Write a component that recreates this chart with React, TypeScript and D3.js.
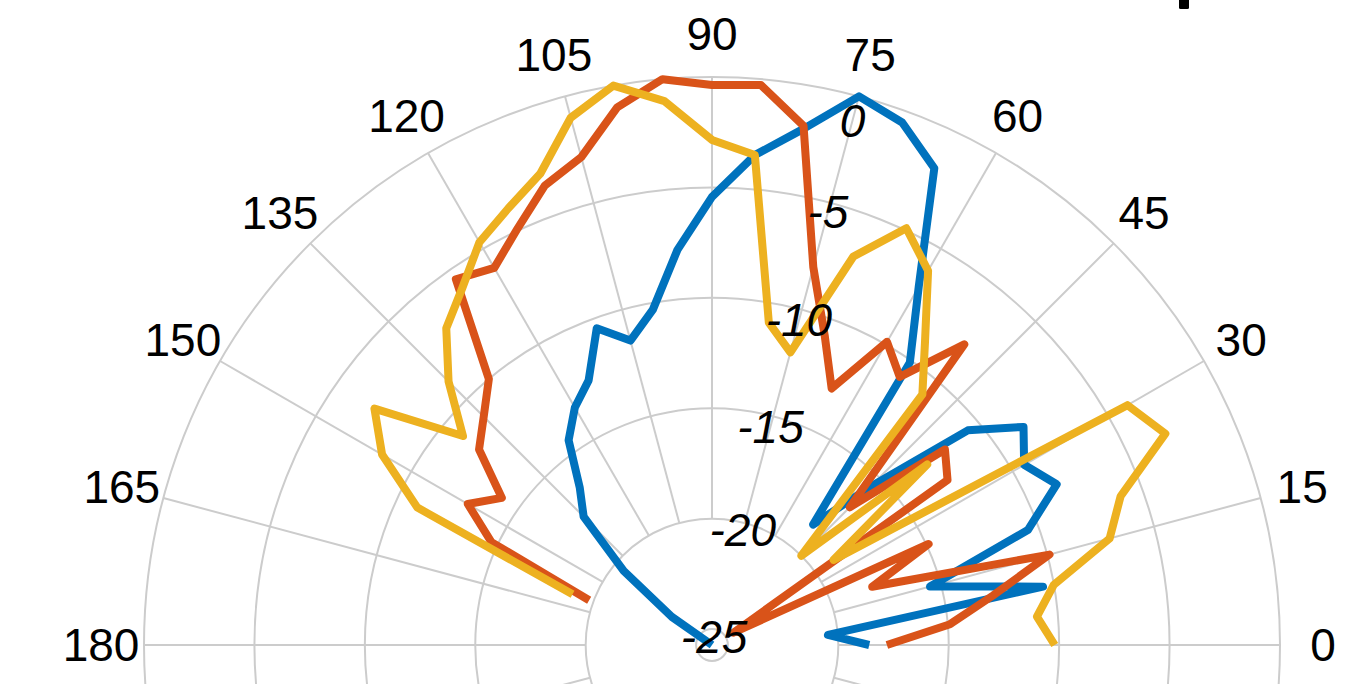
import React from 'react';
import * as d3 from 'd3';

// Sample angles (degrees) shared by the three measured patterns
const thetaDeg = [0, 5, 10, 15, 20, 25, 30, 35, 40, 45, 50, 55, 60, 65, 70, 75, 80, 85, 90, 95, 100, 105, 110, 115, 120, 125, 130, 135, 140, 145, 150, 155, 160];

// Normalized gain (dB) per angle
const gainBlue = [-18.6, -20.45, -10.5, -15.5, -10.5, -8.5, -9.4, -8.5, -10.6, -15.6, -18.6, -10.1, -7.0, -1.9, -0.54, 0, -2.0, -3.45, -5.43, -7.76, -10.3, -11.45, -10.46, -12.5, -13.3, -14.4, -16.4, -17.5, -20.5, -23.5, -25.72, -25.72, -25.72];
const gainRed = [-17.8, -14.9, -12.8, -9.9, -18.0, -14.9, -24.6, -12.7, -11.95, -16.9, -7.95, -10.9, -9.87, -12.9, -10.8, -8.0, -1.85, -0.27, -0.36, 0, -1.0, -2.85, -3.58, -4.9, -6.0, -5.5, -10.0, -11.1, -11.95, -14.1, -12.95, -14.7, -19.8];
const gainYellow = [-10.2, -10.95, -10.0, -7.08, -6.03, -3.07, -4.0, -19.0, -13.0, -20.0, -10.9, -8.9, -6.15, -4.9, -7.0, -12.0, -10.9, -3.45, -2.85, -1.0, 0, -1.0, -3.0, -3.9, -4.66, -6.0, -7.0, -8.85, -11.0, -7.06, -8.47, -11.0, -19.0];

const seriesColors = ['#0072BD', '#D95319', '#EDB120'];

// Axis ticks: spokes every 15° round the full circle, labels on the upper half
const thetaTicks = [0, 15, 30, 45, 60, 75, 90, 105, 120, 135, 150, 165, 180, 195, 210, 225, 240, 255, 270, 285, 300, 315, 330, 345];
const thetaLabels = [0, 15, 30, 45, 60, 75, 90, 105, 120, 135, 150, 165, 180];
const rTicks = [-25, -20, -15, -10, -5, 0];

const W = 1364;
const H = 684;
const CX = 712;
const CY = 645;
const R = 568;
const R_MIN = -25.72;
const R_MAX = 0;

const FONT = '"Liberation Sans", Arial, Helvetica, sans-serif';
const GRID = '#cccccc';

export default function App() {
  const rScale = d3.scaleLinear().domain([R_MIN, R_MAX]).range([0, R]).clamp(true);
  // distance of each radial tick label from the pole, along the 75° direction
  const rLabelDist = d3.scaleLinear().domain(rTicks).range([8, 119, 226, 336, 448, 543]);

  const toRad = (deg: number) => (deg * Math.PI) / 180;
  const px = (deg: number, r: number) => CX + r * Math.cos(toRad(deg));
  const py = (deg: number, r: number) => CY - r * Math.sin(toRad(deg));

  const line = d3
    .lineRadial<[number, number]>()
    .angle((d) => toRad(90 - d[0]))
    .radius((d) => rScale(d[1]));

  const series = [gainBlue, gainRed, gainYellow];
  const spokeInner = rScale(-20);
  const labelAngle = 75;
  const thetaLabelR = R + 43;

  return (
    <svg
      width={W}
      height={H}
      viewBox={`0 0 ${W} ${H}`}
      style={{ position: 'absolute', left: 0, top: 0, background: '#ffffff' }}
    >
      <rect x={0} y={0} width={W} height={H} fill="#ffffff" />

      {/* radial grid circles */}
      {rTicks.map((t) => (
        <circle key={`c${t}`} cx={CX} cy={CY} r={rScale(t)} fill="none" stroke={GRID} strokeWidth={2} />
      ))}

      {/* angular spokes */}
      {thetaTicks.map((a) => (
        <line
          key={`s${a}`}
          x1={px(a, spokeInner)}
          y1={py(a, spokeInner)}
          x2={px(a, R)}
          y2={py(a, R)}
          stroke={GRID}
          strokeWidth={2}
        />
      ))}

      {/* pattern traces */}
      <g transform={`translate(${CX},${CY})`}>
        {series.map((vals, i) => (
          <path
            key={`p${i}`}
            d={line(thetaDeg.map((a, j) => [a, vals[j]] as [number, number])) || ''}
            fill="none"
            stroke={seriesColors[i]}
            strokeWidth={8}
            strokeLinejoin="round"
            strokeLinecap="butt"
          />
        ))}
      </g>

      {/* angle labels */}
      {thetaLabels.map((a) => (
        <text
          key={`t${a}`}
          x={px(a, thetaLabelR)}
          y={py(a, thetaLabelR)}
          textAnchor="middle"
          dominantBaseline="central"
          fontFamily={FONT}
          fontSize={46}
          fill="#000000"
        >
          {a}
        </text>
      ))}

      {/* radial tick labels */}
      {rTicks.map((t) => (
        <text
          key={`r${t}`}
          x={px(labelAngle, rLabelDist(t))}
          y={py(labelAngle, rLabelDist(t))}
          textAnchor="middle"
          dominantBaseline="central"
          fontFamily={FONT}
          fontStyle="italic"
          fontSize={46}
          fill="#000000"
        >
          {t}
        </text>
      ))}

      {/* stroke of a glyph from the heading above the plot */}
      <rect x={1179} y={-4} width={10} height={13} rx={1.5} fill="#000000" />
    </svg>
  );
}
